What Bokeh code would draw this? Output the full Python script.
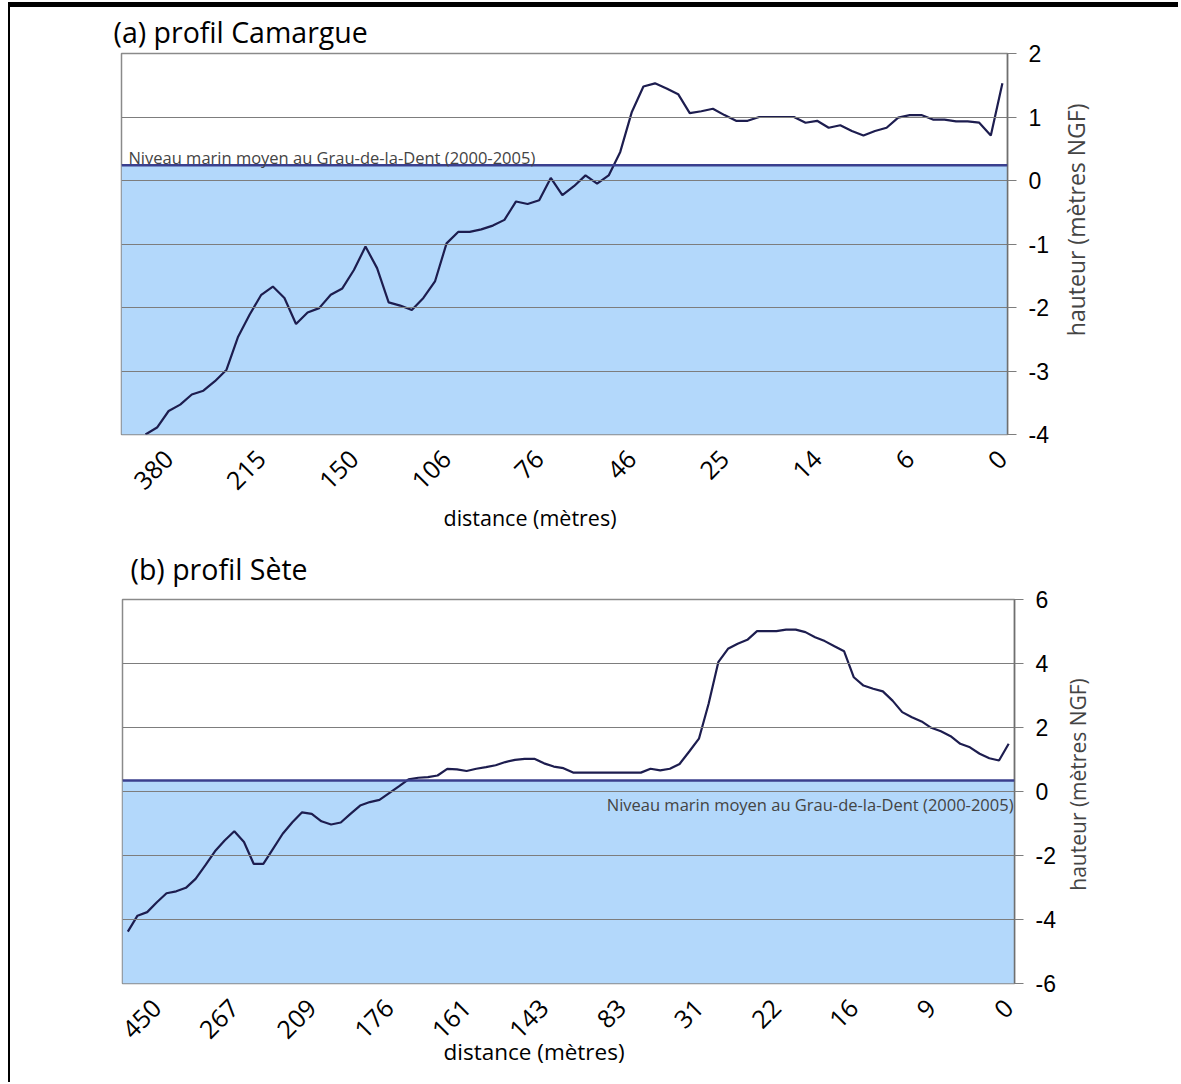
import numpy as np
from bokeh.plotting import figure
from bokeh.models import Range1d, FixedTicker, BoxAnnotation, Span, Label, Title, Spacer
from bokeh.layouts import column, row
from bokeh.embed import file_html
from bokeh.resources import INLINE

# ---------------- data: (a) profil Camargue ----------------
camargue_height = [
    -4.00, -3.89, -3.63, -3.53, -3.37, -3.31, -3.16, -2.98, -2.46, -2.11,
    -1.80, -1.67, -1.85, -2.26, -2.08, -2.01, -1.80, -1.70, -1.41, -1.04,
    -1.38, -1.92, -1.97, -2.04, -1.85, -1.59, -0.99, -0.81, -0.81, -0.77,
    -0.71, -0.62, -0.33, -0.37, -0.31, 0.04, -0.23, -0.09, 0.08, -0.05,
    0.08, 0.45, 1.08, 1.48, 1.53, 1.45, 1.36, 1.06, 1.09, 1.13,
    1.03, 0.94, 0.94, 1.00, 1.00, 1.00, 1.00, 0.91, 0.94, 0.83,
    0.87, 0.78, 0.71, 0.78, 0.83, 0.99, 1.03, 1.03, 0.96, 0.96,
    0.93, 0.93, 0.91, 0.71, 1.53,
]
camargue_tick_index = [2, 10, 18, 26, 34, 42, 50, 58, 66, 74]
camargue_tick_labels = ["380", "215", "150", "106", "76", "46", "25", "14", "6", "0"]
camargue_sea_level = 0.24
camargue_y_ticks = [-4, -3, -2, -1, 0, 1, 2]

# ---------------- data: (b) profil Sète ----------------
sete_height = [
    -4.38, -3.88, -3.77, -3.46, -3.18, -3.12, -3.01, -2.73, -2.31, -1.87,
    -1.53, -1.24, -1.58, -2.26, -2.26, -1.79, -1.32, -0.96, -0.65, -0.70,
    -0.93, -1.03, -0.97, -0.70, -0.44, -0.33, -0.26, -0.05, 0.16, 0.38,
    0.43, 0.45, 0.50, 0.71, 0.69, 0.64, 0.71, 0.76, 0.82, 0.92,
    0.99, 1.02, 1.02, 0.88, 0.78, 0.73, 0.59, 0.59, 0.59, 0.59,
    0.59, 0.59, 0.59, 0.59, 0.71, 0.66, 0.71, 0.86, 1.25, 1.65,
    2.74, 4.04, 4.46, 4.62, 4.74, 5.01, 5.01, 5.01, 5.06, 5.06,
    4.98, 4.82, 4.70, 4.54, 4.38, 3.57, 3.31, 3.21, 3.13, 2.84,
    2.48, 2.32, 2.19, 1.99, 1.88, 1.73, 1.49, 1.38, 1.18, 1.04,
    0.97, 1.49,
]
sete_tick_index = [3, 11, 19, 27, 35, 43, 51, 59, 67, 75, 83, 91]
sete_tick_labels = ["450", "267", "209", "176", "161", "143", "83", "31", "22", "16", "9", "0"]
sete_sea_level = 0.34
sete_y_ticks = [-6, -4, -2, 0, 2, 4, 6]

sea_text = "Niveau marin moyen au Grau-de-la-Dent (2000-2005)"
x_title = "distance (mètres)"
y_title = "hauteur (mètres NGF)"

FONT = "Open Sans"
NUM_FONT = "Liberation Sans"
FILL = "#b3d8fb"
SEA_LINE = "#3a3f8e"
PROFILE = "#1d1d4f"
GRID = "#7d7d7d"


def panel(heights, tick_idx, tick_labels, sea, y_ticks, xr, yr, w, h, mb,
          title, title_offset, title_standoff, xlab_offset, xlab_standoff, xlab_size):
    p = figure(width=w, height=h, x_range=Range1d(*xr), y_range=Range1d(*yr),
               output_backend="svg", toolbar_location=None,
               y_axis_location="right",
               min_border_left=mb[0], min_border_right=mb[1],
               min_border_top=mb[2], min_border_bottom=mb[3])
    p.background_fill_color = "white"
    p.border_fill_color = "white"
    p.outline_line_color = "#8a8a8a"
    p.outline_line_width = 1.5

    p.title.text = title
    p.title.align = "left"
    p.title.offset = title_offset
    p.title.standoff = title_standoff
    p.title.text_font = FONT
    p.title.text_font_size = "28.5px"
    p.title.text_font_style = "normal"
    p.title.text_color = "black"

    # sea below mean level
    p.add_layout(BoxAnnotation(top=sea, fill_color=FILL, fill_alpha=1.0,
                               line_color=None, level="underlay"))

    p.xgrid.visible = False
    p.ygrid.ticker = FixedTicker(ticks=y_ticks)
    p.ygrid.grid_line_color = GRID
    p.ygrid.grid_line_width = 1.2
    p.ygrid.level = "glyph"

    p.add_layout(Span(location=sea, dimension="width", line_color=SEA_LINE,
                      line_width=2.5))

    x = list(range(len(heights)))
    p.line(x, heights, line_color=PROFILE, line_width=2.2)

    xa = p.xaxis[0]
    xa.ticker = FixedTicker(ticks=tick_idx)
    xa.major_label_overrides = {i: lab for i, lab in zip(tick_idx, tick_labels)}
    xa.major_label_orientation = np.pi / 4
    xa.major_tick_out = 0
    xa.major_tick_in = 0
    xa.minor_tick_out = 0
    xa.minor_tick_in = 0
    xa.axis_line_color = None
    xa.major_label_text_font = FONT
    xa.major_label_text_font_size = "25px"
    xa.major_label_text_color = "black"
    xa.major_label_standoff = 20

    xt = Title(text=x_title, align="left", offset=xlab_offset,
               vertical_align="top",
               text_font=FONT, text_font_size=xlab_size,
               text_font_style="normal", text_color="black")
    try:
        xt.standoff = xlab_standoff
    except Exception:
        xt.standoff = 0
    p.add_layout(xt, "below")

    ya = p.yaxis[0]
    ya.ticker = FixedTicker(ticks=y_ticks)
    ya.major_label_overrides = {t: str(t) for t in y_ticks}
    ya.major_tick_out = 9
    ya.major_tick_in = 0
    ya.minor_tick_out = 0
    ya.minor_tick_in = 0
    ya.major_tick_line_color = GRID
    ya.axis_line_color = "#6f6f6f"
    ya.axis_line_width = 1.5
    ya.major_label_text_font = NUM_FONT
    ya.major_label_text_font_size = "23px"
    ya.major_label_text_color = "black"
    ya.major_label_standoff = 12
    return p


def side(p, w, h, mb_top, mb_bottom, lx, ly, size):
    s = figure(width=w, height=h, x_range=Range1d(0, 1), y_range=p.y_range,
               output_backend="svg", toolbar_location=None,
               x_axis_location=None, y_axis_location=None,
               min_border_left=0, min_border_right=0,
               min_border_top=mb_top, min_border_bottom=mb_bottom)
    s.outline_line_color = None
    s.background_fill_color = "white"
    s.border_fill_color = "white"
    for g in s.grid:
        g.visible = False
    s.add_layout(Label(x=lx, y=ly, text=y_title, text_font=FONT, angle=np.pi / 2,
                       text_font_size=size, text_align="center", text_baseline="middle"))
    return s


# charts origin on page: x=10, y=7
# (a) frame: page x 121..1007, y 53..435
pa = panel(camargue_height, camargue_tick_index, camargue_tick_labels,
           camargue_sea_level, camargue_y_ticks,
           (-2.07, 74.44), (-4, 2), 1050, 528, (111, 53, 46, 100),
           "(a) profil Camargue", -8, 6, 322, 4, "21.5px")
pa.add_layout(Label(x=-1.47, y=0.37, text=sea_text, text_font=FONT,
                    text_font_size="16.5px", text_align="left", text_baseline="alphabetic"))
sa = side(pa, 40, 528, 46, 100, 0.375, -0.62, "23px")

# (b) frame: page x 122..1014, y 599..983
pb = panel(sete_height, sete_tick_index, sete_tick_labels,
           sete_sea_level, sete_y_ticks,
           (-0.55, 91.6), (-6, 6), 1055, 541, (112, 51, 64, 93),
           "(b) profil Sète", 8, 24, 321, -27, "22.5px")
pb.add_layout(Label(x=91.5, y=-0.41, text=sea_text, text_font=FONT,
                    text_font_size="16.5px", text_align="right", text_baseline="alphabetic"))
sb = side(pb, 35, 541, 64, 93, 0.37, 0.22, "21px")

charts = column(row(pa, sa, spacing=0), row(pb, sb, spacing=0), spacing=0)

root = column(
    Spacer(width=1178, height=2),
    row(Spacer(width=8, height=5),
        Spacer(width=1170, height=5, styles={"background-color": "black"}), spacing=0),
    row(Spacer(width=8, height=1075),
        Spacer(width=2, height=1075, styles={"background-color": "black"}),
        column(charts, Spacer(width=1090, height=6), spacing=0), spacing=0),
    spacing=0,
)

open("out.html", "w").write(file_html(root, INLINE))
